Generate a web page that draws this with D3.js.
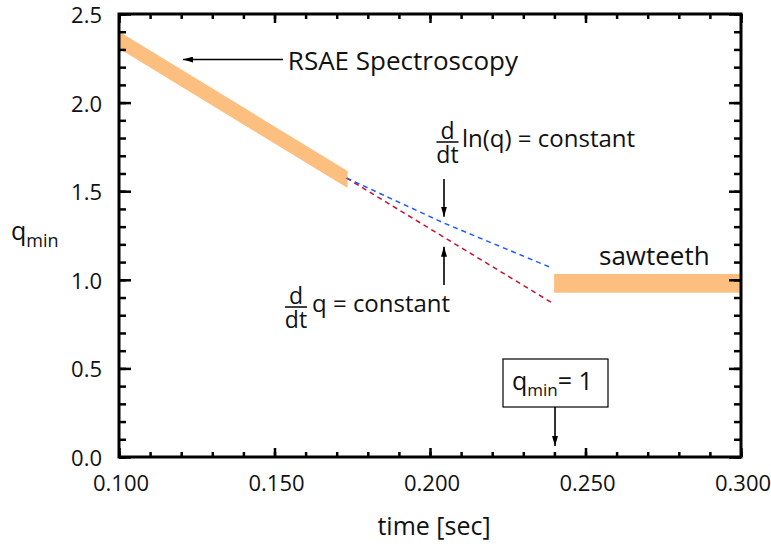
<!DOCTYPE html>
<html>
<head>
<meta charset="utf-8">
<script src="https://cdn.jsdelivr.net/npm/d3@7"></script>
<style>
  html, body { margin: 0; padding: 0; background: #fff; }
  svg { display: block; font-family: "Open Sans", sans-serif; }
  text { fill: #111; }
</style>
</head>
<body>
<svg id="chart" width="771" height="546"></svg>
<script>
// ---- data ----
const xTickLabels = ["0.100", "0.150", "0.200", "0.250", "0.300"];
const xTickValues = [0.100, 0.150, 0.200, 0.250, 0.300];
const yTickLabels = ["0.0", "0.5", "1.0", "1.5", "2.0", "2.5"];
const yTickValues = [0.0, 0.5, 1.0, 1.5, 2.0, 2.5];

// RSAE spectroscopy band: [time, qLow, qHigh]
const rsaeBand = [[0.100, 2.305, 2.401], [0.1735, 1.518, 1.614]];
// sawteeth band: [time, qLow, qHigh]
const sawBand = [[0.2399, 0.927, 1.033], [0.300, 0.927, 1.033]];
// d/dt ln(q) = constant (blue dashed)
const lnConstT = [0.1732, 0.2045, 0.2386];
const lnConstQ = [1.574, 1.320, 1.071];
// d/dt q = constant (red dashed)
const linConstT = [0.1732, 0.2045, 0.2399];
const linConstQ = [1.574, 1.240, 0.863];

const xLabel = "time [sec]";
const yLabelMain = "q", yLabelSub = "min";

// ---- layout ----
const svg = d3.select("#chart");
const W = 771, H = 546;
const m = { left: 119, right: 30, top: 14, bottom: 89 };
const x = d3.scaleLinear().domain([0.100, 0.300]).range([m.left, W - m.right]);
const y = d3.scaleLinear().domain([0.0, 2.5]).range([H - m.bottom, m.top]);

const orange = "#fdbf80";

svg.append("defs").append("clipPath").attr("id", "clip")
  .append("rect").attr("x", m.left).attr("y", m.top)
  .attr("width", x.range()[1] - m.left).attr("height", y.range()[0] - m.top);

const marker = svg.select("defs").append("marker")
  .attr("id", "arrow").attr("viewBox", "0 0 10 6")
  .attr("refX", 10).attr("refY", 3)
  .attr("markerWidth", 10).attr("markerHeight", 6)
  .attr("markerUnits", "userSpaceOnUse").attr("orient", "auto");
marker.append("path").attr("d", "M0,0 L10,3 L0,6 Z").attr("fill", "#000");

const plot = svg.append("g").attr("clip-path", "url(#clip)");

const band = d3.area().x(d => x(d[0])).y0(d => y(d[1])).y1(d => y(d[2]));
plot.append("path").datum(rsaeBand).attr("d", band).attr("fill", orange);
plot.append("path").datum(sawBand).attr("d", band).attr("fill", orange);

const line = d3.line().x(d => x(d[0])).y(d => y(d[1]));
plot.append("path").datum(linConstT.map((t, i) => [t, linConstQ[i]]))
  .attr("d", line).attr("fill", "none").attr("stroke", "#c8102e")
  .attr("stroke-width", 1.5).attr("stroke-dasharray", "5,4");
plot.append("path").datum(lnConstT.map((t, i) => [t, lnConstQ[i]]))
  .attr("d", line).attr("fill", "none").attr("stroke", "#1f5cff")
  .attr("stroke-width", 1.5).attr("stroke-dasharray", "5,4");

// ---- axes (ticks inward, mirrored) ----
const xMinor = d3.range(0.100, 0.3001, 0.010).map(v => +v.toFixed(3));
const yMinor = d3.range(0, 2.5001, 0.1).map(v => +v.toFixed(2));
const x0 = m.left, x1 = x.range()[1], y0 = y.range()[0], y1 = m.top;

function tickAxis(gen, tr, vals, size) {
  const g = svg.append("g").attr("transform", tr)
    .call(gen.tickValues(vals).tickSize(size).tickFormat(""));
  g.select(".domain").remove();
  g.selectAll(".tick line").attr("stroke", "#000").attr("stroke-width", 2.5);
  return g;
}
tickAxis(d3.axisBottom(x), `translate(0,${y0})`, xMinor, -5);
tickAxis(d3.axisBottom(x), `translate(0,${y0})`, xTickValues, -9);
tickAxis(d3.axisTop(x), `translate(0,${y1})`, xMinor, -5);
tickAxis(d3.axisTop(x), `translate(0,${y1})`, xTickValues, -9);
tickAxis(d3.axisLeft(y), `translate(${x0},0)`, yMinor, -7);
tickAxis(d3.axisLeft(y), `translate(${x0},0)`, yTickValues, -12);
tickAxis(d3.axisRight(y), `translate(${x1},0)`, yMinor, -7);
tickAxis(d3.axisRight(y), `translate(${x1},0)`, yTickValues, -12);

svg.append("rect").attr("x", x0).attr("y", y1)
  .attr("width", x1 - x0).attr("height", y0 - y1)
  .attr("fill", "none").attr("stroke", "#000").attr("stroke-width", 3);

// tick labels
svg.append("g").selectAll("text").data(xTickValues).join("text")
  .attr("x", d => x(d) + 2).attr("y", y0 + 34)
  .attr("text-anchor", "middle").attr("font-size", 22)
  .text((d, i) => xTickLabels[i]);
svg.append("g").selectAll("text").data(yTickValues).join("text")
  .attr("x", x0 - 17).attr("y", d => y(d) + 9)
  .attr("text-anchor", "end").attr("font-size", 22)
  .text((d, i) => yTickLabels[i]);

// axis titles
svg.append("text").attr("x", (x0 + x1) / 2 + 4).attr("y", 535)
  .attr("text-anchor", "middle").attr("font-size", 25).text(xLabel);
const yl = svg.append("text").attr("x", 11).attr("y", 240).attr("font-size", 25);
yl.append("tspan").text(yLabelMain);
yl.append("tspan").attr("font-size", 18).attr("dy", 7).text(yLabelSub);

// ---- annotations ----
function arrow(xa, ya, xb, yb) {
  svg.append("line").attr("x1", xa).attr("y1", ya).attr("x2", xb).attr("y2", yb)
    .attr("stroke", "#000").attr("stroke-width", 1.6).attr("marker-end", "url(#arrow)");
}

// RSAE Spectroscopy
arrow(x(0.1527), y(2.243), x(0.1206), y(2.243));
svg.append("text").attr("x", x(0.1543)).attr("y", 70).attr("font-size", 26)
  .text("RSAE Spectroscopy");

// sawteeth
svg.append("text").attr("x", 599).attr("y", 265).attr("font-size", 26).text("sawteeth");

// fractions d/dt (numerator and denominator in one text element)
function frac(cx, barY) {
  const t = svg.append("text").attr("text-anchor", "middle").attr("font-size", 23);
  t.append("tspan").attr("x", cx).attr("y", barY - 3).text("d");
  t.append("tspan").attr("x", cx).attr("y", barY + 21).text("dt");
  svg.append("line").attr("x1", cx - 11).attr("x2", cx + 11)
    .attr("y1", barY).attr("y2", barY).attr("stroke", "#111").attr("stroke-width", 1.6);
}
frac(447.5, 142);
svg.append("text").attr("x", 462).attr("y", 147).attr("font-size", 24).text("ln(q) = constant");
arrow(x(0.2045), y(1.569), x(0.2045), y(1.356));

frac(296, 307);
svg.append("text").attr("x", 312).attr("y", 312).attr("font-size", 24).text("q = constant");
arrow(x(0.2045), y(0.971), x(0.2045), y(1.187));

// q_min = 1 box
svg.append("rect").attr("x", 503).attr("y", 359).attr("width", 105).attr("height", 48)
  .attr("fill", "#fff").attr("stroke", "#000").attr("stroke-width", 1.2);
const qb = svg.append("text").attr("x", 512).attr("y", 390).attr("font-size", 25);
qb.append("tspan").text("q");
qb.append("tspan").attr("font-size", 17).attr("dy", 6).text("min");
qb.append("tspan").attr("dy", -6).text("= 1");
arrow(x(0.2402), y(0.282), x(0.2402), y(0.062));
</script>
</body>
</html>
